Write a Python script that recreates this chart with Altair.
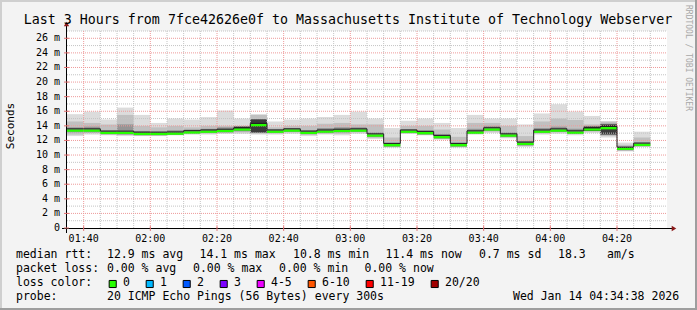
import altair as alt
import pandas as pd

# ---------------- data ----------------
step_times = ["01:35", "01:40", "01:45", "01:50", "01:55", "02:00", "02:05", "02:10", "02:15", "02:20",
              "02:25", "02:30", "02:35", "02:40", "02:45", "02:50", "02:55", "03:00", "03:05", "03:10",
              "03:15", "03:20", "03:25", "03:30", "03:35", "03:40", "03:45", "03:50", "03:55", "04:00",
              "04:05", "04:10", "04:15", "04:20", "04:25"]
median_ms = [13.35, 13.35, 13.04, 13.04, 12.9, 12.9, 12.93, 13.1, 13.2, 13.3,
             13.5, 14.1, 13.2, 13.35, 13.04, 13.2, 13.3, 13.35, 12.67, 11.35,
             13.2, 13.0, 12.45, 11.35, 13.08, 13.5, 12.67, 11.53, 13.2, 13.35,
             13.08, 13.5, 13.68, 10.85, 11.4]
smoke_max = [15.6, 15.95, 14.86, 16.5, 15.5, 14.4, 15.0, 14.86, 15.2, 16.1,
             15.0, 15.6, 14.6, 14.86, 15.0, 15.2, 15.5, 15.95, 15.0, 13.7,
             14.7, 15.0, 14.4, 13.7, 15.5, 15.0, 15.0, 14.2, 15.7, 16.96,
             15.95, 15.36, 14.6, 11.7, 13.2]
smoke_min = [12.6, 12.8, 12.7, 12.6, 12.6, 12.6, 12.7, 12.8, 12.8, 12.9,
             12.9, 12.8, 12.8, 12.9, 12.6, 12.8, 12.7, 12.9, 12.2, 11.0,
             12.9, 12.7, 12.1, 11.0, 12.8, 13.0, 12.3, 11.1, 12.8, 12.9,
             12.7, 13.0, 12.4, 10.5, 11.1]
inner_lo = [12.8, 13.0, 12.8, 12.8, 12.7, 12.7, 12.8, 12.9, 13.0, 13.0,
            13.1, 13.0, 13.0, 13.1, 12.8, 13.0, 12.9, 13.1, 12.4, 11.1,
            13.0, 12.8, 12.3, 11.1, 12.9, 13.2, 12.5, 11.3, 13.0, 13.1,
            12.9, 13.2, 12.6, 10.6, 11.2]
inner_hi = [14.6, 14.4, 14.2, 15.5, 14.0, 13.8, 14.0, 13.8, 14.0, 14.0,
            14.0, 15.5, 13.8, 14.0, 14.0, 14.3, 14.4, 14.2, 14.2, 12.4,
            14.0, 14.0, 13.5, 12.5, 14.4, 14.4, 14.0, 12.6, 14.6, 15.0,
            14.8, 14.2, 14.6, 11.4, 12.4]
core_lo = [13.1, 13.1, 12.85, 12.8, 12.7, 12.7, 12.75, 12.95, 13.0, 13.1,
           13.25, 13.0, 13.0, 13.15, 12.85, 13.0, 13.1, 13.15, 12.45, 11.15,
           13.0, 12.8, 12.25, 11.15, 12.9, 13.3, 12.45, 11.3, 13.0, 13.15,
           12.9, 13.3, 12.9, 10.65, 11.2]
core_hi = [13.8, 13.9, 13.4, 14.2, 13.3, 13.2, 13.4, 13.5, 13.6, 13.8,
           13.9, 14.8, 13.5, 13.7, 13.4, 13.7, 13.8, 13.8, 13.1, 11.7,
           13.5, 13.4, 12.9, 11.7, 13.6, 14.0, 13.1, 11.9, 13.7, 13.9,
           13.6, 14.0, 14.3, 11.1, 11.7]
dark_times = ["02:25", "02:30", "04:10", "04:15", "04:20"]
dark_lo = [13.4, 13.1, 13.3, 12.8, 10.8]
dark_hi = [13.9, 14.9, 13.9, 14.2, 11.1]

major_x = ["01:40", "02:00", "02:20", "02:40", "03:00", "03:20", "03:40", "04:00", "04:20"]
minor_x = ["01:45", "01:50", "01:55", "02:05", "02:10", "02:15", "02:25", "02:30", "02:35",
           "02:45", "02:50", "02:55", "03:05", "03:10", "03:15", "03:25", "03:30", "03:35",
           "03:45", "03:50", "03:55", "04:05", "04:10", "04:15", "04:25", "04:30"]
major_y = [2, 4, 6, 8, 10, 12, 14, 16, 18, 20, 22, 24, 26]
minor_y = [1, 3, 5, 7, 9, 11, 13, 15, 17, 19, 21, 23, 25, 27]
y_labels = [0] + major_y
y_top = 27

title_text = "Last 3 Hours from 7fce42626e0f to Massachusetts Institute of Technology Webserver"
rtt_avg, rtt_max, rtt_min, rtt_now, rtt_sd, am_s = 12.9, 14.1, 10.8, 11.4, 0.7, 18.3
loss_avg, loss_max, loss_min, loss_now = 0.0, 0.0, 0.0, 0.0
loss_labels = ["0", "1", "2", "3", "4-5", "6-10", "11-19", "20/20"]
loss_colors = ["#26ff00", "#00b8ff", "#0059ff", "#7e00ff", "#ee00ff", "#ff5500", "#ff0000", "#a10000"]
probe_text = "20 ICMP Echo Pings (56 Bytes) every 300s"
stamp_text = "Wed Jan 14 04:34:38 2026"

# ---------------- layout ----------------
W, H = 600, 197
PL, PT = 67, 31
DAY = "2026-01-14T"
MONO = "DejaVu Sans Mono"


def iso(hm):
    return DAY + hm + ":00"


t0 = pd.to_datetime([iso(h) for h in step_times])
fmt = "%Y-%m-%dT%H:%M:%S"
steps = pd.DataFrame({
    "t": t0.strftime(fmt),
    "t2": (t0 + pd.Timedelta(minutes=5)).strftime(fmt),
    "median": median_ms, "smax": smoke_max, "smin": smoke_min,
    "ilo": inner_lo, "ihi": inner_hi, "clo": core_lo, "chi": core_hi,
})
steps["glo"] = steps["median"] - 0.16
steps["ghi"] = steps["median"] + 0.16

td = pd.to_datetime([iso(h) for h in dark_times])
dark = pd.DataFrame({"t": td.strftime(fmt),
                     "t2": (td + pd.Timedelta(minutes=5)).strftime(fmt),
                     "lo": dark_lo, "hi": dark_hi})

line = pd.DataFrame({"t": list(steps["t"]) + [steps["t2"].iloc[-1]],
                     "v": list(steps["median"]) + [steps["median"].iloc[-1]]})
line["v"] = line["v"] + 0.24

xdom = alt.Scale(domain=[iso("01:35"), iso("04:35")], nice=False)
ydom = alt.Scale(domain=[0, y_top], nice=False, zero=True)

X = lambda f: alt.X(f, scale=xdom, axis=None)
Y = lambda f: alt.Y(f, scale=ydom, axis=None)


def band(df, lo, hi, color):
    return alt.Chart(df).mark_rect(color=color, opacity=1).encode(
        x=X("t:T"), x2="t2:T", y=Y(f"{lo}:Q"), y2=f"{hi}:Q")


outer = band(steps, "smin", "smax", "#dcdcdc")
inner = band(steps, "ilo", "ihi", "#c0c0c0")
core = band(steps, "clo", "chi", "#959595")
darkl = band(dark, "lo", "hi", "#3a3a3a")
green = band(steps, "glo", "ghi", loss_colors[0])


def vgrid(times, lo, hi):
    rows = []
    for h in times:
        rows.append({"t": iso(h), "v": lo, "k": h})
        rows.append({"t": iso(h), "v": hi, "k": h})
    return pd.DataFrame(rows)


gx_minor = alt.Chart(vgrid(minor_x, 0, y_top)).mark_line(
    color="#c4c4c4", strokeDash=[1, 1], strokeWidth=1).encode(
    x=X("t:T"), y=Y("v:Q"), detail="k:N")
gx_major = alt.Chart(vgrid(major_x, 0, y_top)).mark_line(
    color="#ee9a9a", strokeDash=[1, 1], strokeWidth=1).encode(
    x=X("t:T"), y=Y("v:Q"), detail="k:N")
xticks = alt.Chart(vgrid(major_x, -0.4, 0.25)).mark_line(
    color="#e07070", strokeWidth=1).encode(
    x=X("t:T"), y=Y("v:Q"), detail="k:N")

gy_minor = alt.Chart(pd.DataFrame({"v": minor_y})).mark_rule(
    color="#c4c4c4", strokeDash=[1, 1], strokeWidth=1).encode(
    y=Y("v:Q"), x=alt.value(0), x2=alt.value(W))
gy_major = alt.Chart(pd.DataFrame({"v": major_y})).mark_rule(
    color="#ee9a9a", strokeDash=[1, 1], strokeWidth=1).encode(
    y=Y("v:Q"), x=alt.value(0), x2=alt.value(W))

xlab = pd.DataFrame({"t": [iso(h) for h in major_x], "s": major_x})
ylab = pd.DataFrame({"v": y_labels, "s": [("0" if v == 0 else f"{v} m") for v in y_labels]})
yticks = alt.Chart(ylab).mark_rule(color="#e07070", strokeWidth=1).encode(
    y=Y("v:Q"), x=alt.value(-3), x2=alt.value(2))
xlabels = alt.Chart(xlab).mark_text(font=MONO, fontSize=10, align="center", baseline="middle",
                                   color="#000000").encode(
    x=X("t:T"), y=alt.value(H + 10.5), text="s:N")
ylabels = alt.Chart(ylab).mark_text(font=MONO, fontSize=10, align="right", baseline="middle",
                                   color="#000000").encode(
    y=Y("v:Q"), x=alt.value(-7), text="s:N")

med_line = alt.Chart(line).mark_line(interpolate="step-after", color="#202020", strokeWidth=1).encode(
    x=X("t:T"), y=Y("v:Q"))

one = pd.DataFrame({"a": [0]})
x_axis_line = alt.Chart(one).mark_rule(color="#000000", strokeWidth=1).encode(
    x=alt.value(-5), x2=alt.value(W + 6), y=alt.value(H + 0.5))
y_axis_line = alt.Chart(one).mark_rule(color="#000000", strokeWidth=1).encode(
    x=alt.value(-0.5), y=alt.value(-6), y2=alt.value(H + 5))
arrow_r = alt.Chart(one).mark_point(shape="triangle-right", filled=True, color="#8b1a1a",
                                   size=28, opacity=1).encode(x=alt.value(W + 7), y=alt.value(H + 0.5))
arrow_u = alt.Chart(one).mark_point(shape="triangle-up", filled=True, color="#8b1a1a",
                                   size=28, opacity=1).encode(x=alt.value(-0.5), y=alt.value(-7))

frame = [
    alt.Chart(one).mark_rule(color="#cfcfcf", strokeWidth=2).encode(
        x=alt.value(-PL), x2=alt.value(697 - PL), y=alt.value(-PT + 1)),
    alt.Chart(one).mark_rule(color="#cfcfcf", strokeWidth=2).encode(
        x=alt.value(-PL + 1), y=alt.value(-PT), y2=alt.value(310 - PT)),
    alt.Chart(one).mark_rule(color="#9e9e9e", strokeWidth=2).encode(
        x=alt.value(-PL), x2=alt.value(697 - PL), y=alt.value(309 - PT)),
    alt.Chart(one).mark_rule(color="#9e9e9e", strokeWidth=2).encode(
        x=alt.value(696 - PL), y=alt.value(-PT), y2=alt.value(310 - PT)),
]

title = alt.Chart(pd.DataFrame({"s": [title_text]})).mark_text(
    font=MONO, fontSize=13.3, align="center", baseline="alphabetic", color="#000000").encode(
    text="s:N", x=alt.value(348 - PL), y=alt.value(23.5 - PT))
ytitle = alt.Chart(pd.DataFrame({"s": ["Seconds"]})).mark_text(
    font=MONO, fontSize=11, align="center", baseline="middle", angle=270, color="#000000").encode(
    text="s:N", x=alt.value(11 - PL), y=alt.value(126 - PT))
rrd = alt.Chart(pd.DataFrame({"s": ["RRDTOOL / TOBI OETIKER"]})).mark_text(
    font=MONO, fontSize=8, align="center", baseline="middle", angle=90, color="#a8a8a8").encode(
    text="s:N", x=alt.value(688 - PL), y=alt.value(58 - PT))

line1 = ["median rtt:", f"{rtt_avg:.1f} ms avg", f"{rtt_max:.1f} ms max", f"{rtt_min:.1f} ms min",
         f"{rtt_now:.1f} ms now", f"{rtt_sd:.1f} ms sd", f"{am_s:.1f}", "am/s"]
line1_x = [16, 107, 199.5, 293, 385.5, 479, 558, 607]
line2 = ["packet loss:", f"{loss_avg:.2f} % avg", f"{loss_max:.2f} % max", f"{loss_min:.2f} % min",
         f"{loss_now:.2f} % now"]
line2_x = [16, 107, 193, 279, 364.5]
line4 = ["probe:", probe_text, stamp_text]
line4_x = [16, 107, 513]
rows = []
for s, x in zip(line1, line1_x):
    rows.append((s, x - PL, 255 - PT))
for s, x in zip(line2, line2_x):
    rows.append((s, x - PL, 269 - PT))
rows.append(("loss color:", 16 - PL, 283 - PT))
for s, x in zip(line4, line4_x):
    rows.append((s, x - PL, 297 - PT))

sq_left = []
xpos = 108.7
for lab in loss_labels:
    sq_left.append(xpos)
    xpos += len(lab) * 7 + 30
for lab, x in zip(loss_labels, sq_left):
    rows.append((lab, x + 14.3 - PL, 283 - PT))
legend_txt = pd.DataFrame(rows, columns=["s", "px", "py"])
legend_text = alt.Chart(legend_txt).mark_text(
    font=MONO, fontSize=11.5, align="left", baseline="middle", color="#000000").encode(
    text="s:N", x=alt.X("px:Q", scale=None), y=alt.Y("py:Q", scale=None))

sw = pd.DataFrame({"lab": loss_labels, "col": loss_colors,
                   "px": [x + 4 - PL for x in sq_left], "py": [284 - PT] * len(loss_labels)})
swatches = alt.Chart(sw).mark_square(size=50, filled=True, stroke="#000000", strokeWidth=1,
                                     opacity=1).encode(
    x=alt.X("px:Q", scale=None), y=alt.Y("py:Q", scale=None),
    fill=alt.Fill("col:N", scale=None))

chart = alt.layer(
    outer, inner, core, darkl,
    gy_minor, gx_minor, gy_major, gx_major,
    green, med_line,
    x_axis_line, y_axis_line, xticks, yticks, arrow_r, arrow_u,
    xlabels, ylabels,
    *frame,
    title, ytitle, rrd, legend_text, swatches,
).properties(
    width=W, height=H,
    autosize=alt.AutoSizeParams(type="none"),
    padding={"left": PL, "top": PT, "right": 697 - PL - W, "bottom": 310 - PT - H},
    background="#f3f3f3",
).configure_view(stroke=None, fill="#ffffff")

chart.save("out.html", embed_options={"renderer": "svg", "actions": False})
